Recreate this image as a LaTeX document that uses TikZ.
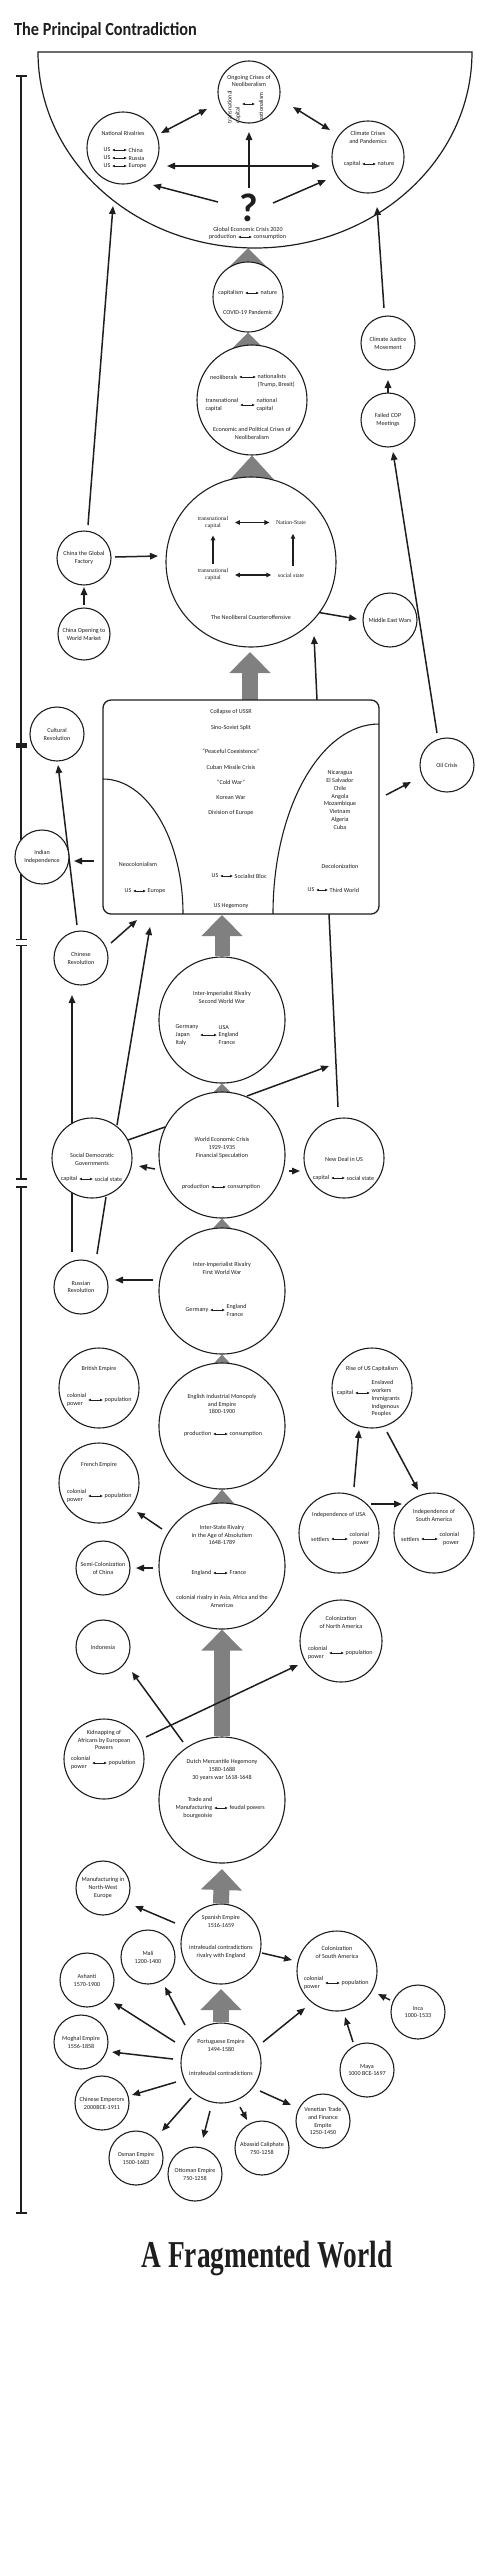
\documentclass[tikz,border=0pt]{standalone}
\usepackage{fontspec}
\setmainfont{Carlito}
\newfontfamily\serifish{Liberation Serif}
\usetikzlibrary{arrows.meta}
\pgfdeclarelayer{background}
\pgfsetlayers{background,main}
\definecolor{gfill}{RGB}{128,128,128}
\definecolor{ink}{RGB}{30,30,30}
\newcommand{\DblA}[8]{%
  \node[txt,anchor=east,align=#5] (#1l) at ({#2-1},#4) {#6};
  \node[txt,anchor=west,align=#7] (#1r) at ({#3+1},#4) {#8};
  \draw[darr] (#1l.east) -- (#1r.west);}
\begin{document}
\begin{tikzpicture}[x=1pt,y=-1pt,
  txt/.style={font=\fontsize{6.1}{7.8}\selectfont, inner sep=0.5pt, align=center, text=ink},
  stxt/.style={font=\serifish\fontsize{5.9}{7}\selectfont, inner sep=0.5pt, align=center, text=ink},
  circ/.style={circle, draw=ink, line width=1.1pt, fill=white, inner sep=0pt, minimum size=#1, font=\fontsize{6.1}{7.8}\selectfont, align=center, text=ink},
  boxst/.style={draw=ink, line width=1.3pt, fill=white, rounded corners=8pt, minimum width=276pt, minimum height=214pt, inner sep=0pt, outer sep=0pt},
  arr/.style={draw=ink, line width=1.5pt, -{Triangle[length=8pt,width=6.5pt]}},
  arrd/.style={draw=ink, line width=1.5pt, {Triangle[length=8pt,width=6.5pt]}-{Triangle[length=8pt,width=6.5pt]}},
  ln/.style={draw=ink, line width=1.5pt},
  darr/.style={draw=ink, line width=0.6pt, {Latex[length=2.8pt,width=2.6pt]}-{Latex[length=2.8pt,width=2.6pt]}, shorten <=1pt, shorten >=1pt},
  sarrd/.style={draw=ink, line width=1.2pt, {Triangle[length=5pt,width=4.5pt]}-{Triangle[length=5pt,width=4.5pt]}},
  sarr/.style={draw=ink, line width=1.2pt, -{Triangle[length=5pt,width=4.5pt]}},
  bigarr/.style={draw=gfill, line width=#1, -{Triangle[length=21pt,width=40pt]}},
  tri/.style={fill=gfill},
  tl/.style={draw=ink, line width=1.4pt},
  tick/.style={draw=ink, line width=1.8pt}]
\useasboundingbox (0,0) rectangle (495,2560);

% ---------- titles ----------
\node[anchor=base west, inner sep=0pt, font=\fontsize{18.5}{18.5}\selectfont\bfseries, xscale=0.88, transform shape, text=ink] (title) at (14,35.5) {The Principal Contradiction};
\node[anchor=base, inner sep=0pt, font=\serifish\bfseries\fontsize{38}{38}\selectfont, xscale=0.72, text=ink] (bottomtitle) at (267,2267) {A Fragmented World};

% ---------- timeline ----------
\draw[tl] (21,76) -- (21,939.5);
\draw[tl] (21,945.5) -- (21,1179);
\draw[tl] (21,1187) -- (21,2213);
\draw[tick] (16,76) -- (27,76);
\draw[tick] (16,939.5) -- (27,939.5);
\draw[tick] (16,945.5) -- (27,945.5);
\draw[tick] (16,1179) -- (27,1179);
\draw[tick] (16,1187) -- (27,1187);
\draw[tick] (16,2213) -- (27,2213);
\fill[ink] (16,743) rectangle (27,748);

% ---------- top half-disc ----------
\draw[ink, line width=1.2pt] (38,52) -- (472,52) arc[start angle=0, end angle=180, x radius=217, y radius=196] -- cycle;
\coordinate (semiL) at (113,206);
\coordinate (semiR) at (377,207);
\coordinate (semiB) at (248,248);

% ---------- circles ----------
\node[circ=62] (ongoing) at (249,92) {};
\node[circ=72] (natriv) at (123,148) {};
\node[circ=72] (climate) at (368,157) {};
\node[circ=70] (covid) at (248,297) {};
\node[circ=110] (econpol) at (252,400) {};
\node[circ=170] (neolib) at (251,562) {};
\node[circ=54] (cjm) at (388,343) {Climate Justice\\Movement};
\node[circ=54] (failedcop) at (388,420) {Failed COP\\Meetings};
\node[circ=54] (mideast) at (390,620) {Middle East Wars};
\node[circ=54] (oil) at (447,765) {Oil Crisis};
\node[circ=52] (chinaopen) at (84,634) {China Opening to\\World Market};
\node[circ=54] (chinafac) at (84,558) {China the Global\\Factory};
\node[circ=54] (cultrev) at (57,734) {Cultural\\Revolution};
\node[circ=54] (indind) at (42,857) {Indian\\Independence};
\node[circ=54] (chinrev) at (81,958) {Chinese\\Revolution};
\node[boxst] (hegem) at (241,807) {};
\node[circ=80] (socdem) at (92,1158) {};
\node[circ=80] (newdeal) at (344,1158) {};
\node[circ=126] (ww2) at (222,1020) {};
\node[circ=126] (wec) at (222,1155) {};
\node[circ=126] (ww1) at (222,1291) {};
\node[circ=54] (russrev) at (81,1287) {Russian\\Revolution};
\node[circ=126] (english) at (222,1426) {};
\node[circ=80] (british) at (99,1388) {};
\node[circ=80] (riseus) at (372,1388) {};
\node[circ=80] (indusa) at (339,1533) {};
\node[circ=80] (indsa) at (434,1533) {};
\node[circ=80] (french) at (99,1483) {};
\node[circ=54] (semicol) at (103,1568) {Semi-Colonization\\of China};
\node[circ=126] (interstate) at (222,1566) {};
\node[circ=54] (indonesia) at (103,1647) {Indonesia};
\node[circ=82] (colna) at (341,1641) {};
\node[circ=126] (dutch) at (222,1800) {};
\node[circ=80] (kidnap) at (104,1759) {};
\node[circ=54] (manuf) at (103,1888) {Manufacturing in\\North-West\\Europe};
\node[circ=80] (spanish) at (221,1944) {};
\node[circ=54] (mali) at (148,1957) {Mali\\1200-1400};
\node[circ=54] (ashanti) at (87,1980) {Ashanti\\1570-1900};
\node[circ=54] (moghal) at (81,2042) {Moghal Empire\\1556-1858};
\node[circ=80] (colsa) at (337,1971) {};
\node[circ=54] (inca) at (418,2012) {Inca\\1000-1533};
\node[circ=54] (maya) at (367,2070) {Maya\\1000 BCE-1697};
\node[circ=80] (portug) at (221,2063) {};
\node[circ=54] (chinemp) at (102,2103) {Chinese Emperors\\2000BCE-1911};
\node[circ=54] (osman) at (136,2158) {Osman Empire\\1500-1683};
\node[circ=54] (ottoman) at (195,2174) {Ottoman Empire\\750-1258};
\node[circ=54] (abassid) at (262,2148) {Abassid Caliphate\\750-1258};
\node[circ=54] (venetian) at (323,2121) {Venetian Trade\\and Finance\\Empite\\1250-1450};

% box inner arcs
\draw[ink, line width=1.1pt] ([yshift=135pt]hegem.south west) arc[start angle=-90, end angle=0, x radius=80, y radius=135];
\draw[ink, line width=1.1pt] ([yshift=190pt]hegem.south east) arc[start angle=-90, end angle=-180, x radius=106, y radius=190];

% ---------- texts: top ----------
\node[txt] (ongt) at (249,81) {Ongoing Crises of\\Neoliberalism};
\node[txt, rotate=90, align=left] (ongl) at (234,107) {transnational\\capital};
\node[txt, rotate=90] (ongr) at (261,107) {nationalism};
\draw[darr] ([shift={(-8,12)}]ongoing.center) -- ([shift={(7,12)}]ongoing.center);
\node[txt] (nrt) at (123,133) {National Rivalries};
\DblA{nra}{112}{127}{150}{left}{US}{left}{China}
\DblA{nrb}{112}{127}{158}{left}{US}{left}{Russia}
\DblA{nrc}{112}{127}{166}{left}{US}{left}{Europe}
\node[txt] (clt) at (368,137.5) {Climate Crises\\and Pandemics};
\DblA{cl}{362}{376}{164}{left}{capital}{left}{nature}
\node[inner sep=0pt, font=\fontsize{40}{40}\selectfont\bfseries, text=ink] (qmark) at (249,208) {?};
\node[txt] (gect) at (248,229) {Global Economic Crisis 2020};
\DblA{gec}{238}{252}{237}{left}{production}{left}{consumption}
\DblA{cv}{245}{259}{293}{left}{capitalism}{left}{nature}
\node[txt] (cvt) at (248,312) {COVID-19 Pandemic};
\node[txt, anchor=east] (epal) at (238,377) {neoliberals};
\node[txt, anchor=west, align=left] (epar) at (257,381) {nationalists\\(Trump, Brexit)};
\draw[darr] (epal.east) -- (epal.east -| epar.west);
\DblA{epb}{240}{255}{405}{left}{transnational\\capital}{left}{national\\capital}
\node[txt] (ept) at (252,433) {Economic and Political Crises of\\Neoliberalism};

% neoliberal counteroffensive
\node[stxt] (nta) at (213,522.5) {transnational\\capital};
\node[stxt] (ntb) at (291,523) {Nation-State};
\node[stxt] (nba) at (213,575) {transnational\\capital};
\node[stxt] (nbb) at (291,575) {social state};
\draw[sarrd, shorten <=6pt, shorten >=6pt] (nta.east) -- (nta.east -| ntb.west);
\draw[sarrd, shorten <=6pt, shorten >=6pt] (nba.east) -- (nba.east -| nbb.west);
\draw[sarr, shorten <=4pt, shorten >=6pt] (nba.north) -- (nta.south);
\draw[sarr, shorten <=6pt, shorten >=8pt] ([xshift=2pt]nbb.north) -- ([xshift=2pt]nbb.north |- ntb.south);
\node[txt] (nlt) at (251,617) {The Neoliberal Counteroffensive};

% hegemony box
\node[txt] (ha) at (231,712) {Collapse of USSR};
\node[txt] (hb) at (231,728) {Sino-Soviet Split};
\node[txt] (hc) at (231,751) {“Peaceful Coexistence”};
\node[txt] (hd) at (231,767) {Cuban Missile Crisis};
\node[txt] (he) at (231,782) {“Cold War”};
\node[txt] (hf) at (231,798) {Korean War};
\node[txt] (hg) at (231,813) {Division of Europe};
\DblA{hs}{220}{233}{876}{left}{US}{left}{Socialist Bloc}
\node[txt] (hh) at (231,906) {US Hegemony};
\node[txt] (hi) at (138,864) {Neocolonialism};
\DblA{hq}{133}{146}{891}{left}{US}{left}{Europe}
\node[txt] (hj) at (340,800) {Nicaragua\\El Salvador\\Chile\\Angola\\Mozambique\\Vietnam\\Algeria\\Cuba};
\node[txt] (hk) at (340,866) {Decolonization};
\DblA{ht}{316}{328}{890}{left}{US}{left}{Third World}

% middle
\node[txt] (wbt) at (222,997) {Inter-Imperialist Rivalry\\Second World War};
\DblA{wb}{200}{217}{1035}{left}{Germany\\Japan\\Italy}{left}{USA\\England\\France}
\node[txt] (wect) at (222,1148) {World Economic Crisis\\1929-1935\\Financial Speculation};
\DblA{we}{211}{226}{1187}{left}{production}{left}{consumption}
\node[txt] (sdt) at (92,1159) {Social Democratic\\Governments};
\DblA{sd}{79}{93}{1179}{left}{capital}{left}{social state}
\node[txt] (ndt) at (344,1159) {New Deal in US};
\DblA{nd}{331}{345}{1178}{left}{capital}{left}{social state}
\node[txt] (wat) at (222,1268) {Inter-Imperialist Rivalry\\First World War};
\DblA{wa}{210}{225}{1310}{left}{Germany}{left}{England\\France}
\node[txt] (ent) at (222,1404) {English Industrial Monopoly\\and Empire\\1800-1900};
\DblA{en}{213}{228}{1434}{left}{production}{left}{consumption}
\node[txt] (brt) at (99,1369) {British Empire};
\DblA{br}{88}{103}{1400}{left}{colonial\\power}{left}{population}
\node[txt] (rut) at (372,1369) {Rise of US Capitalism};
\node[txt, anchor=east] (rul) at (354,1393) {capital};
\node[txt, anchor=west, align=left] (rur) at (371,1398.6) {Enslaved\\workers\\Immigrants\\Indigenous\\Peoples};
\draw[darr] (rul.east) -- (rul.east -| rur.west);
\node[txt] (frt) at (99,1465) {French Empire};
\DblA{fr}{88}{103}{1496}{left}{colonial\\power}{left}{population}
\node[txt] (iut) at (339,1515) {Independence of USA};
\DblA{iu}{331}{348}{1539}{left}{settlers}{right}{colonial\\power}
\node[txt] (ist) at (434,1515) {Independence of\\South America};
\DblA{is}{421}{438}{1539}{left}{settlers}{right}{colonial\\power}
\node[txt] (itt) at (222,1535) {Inter-State Rivalry\\in the Age of Absolutism\\1648-1789};
\DblA{it}{213}{228}{1573}{left}{England}{left}{France}
\node[txt] (itb) at (222,1601) {colonial rivalry in Asia, Africa and the\\Americas};
\node[txt] (cnt) at (341,1622) {Colonization\\of North America};
\DblA{cn}{329}{344}{1653}{left}{colonial\\power}{left}{population}
\node[txt] (kdt) at (104,1740) {Kidnapping of\\Africans by European\\Powers};
\DblA{kd}{92}{107}{1763}{left}{colonial\\power}{left}{population}
\node[txt] (dut) at (222,1770) {Dutch Mercantile Hegemony\\1580-1688\\30 years war 1618-1648};
\DblA{du}{214}{228}{1808}{right}{Trade and\\Manufacturing\\bourgeoisie}{left}{feudal powers}
\node[txt] (spt) at (221,1921) {Spanish Empire\\1516-1659};
\node[txt] (spb) at (221,1952) {intrafeudal contradictions\\rivalry with England};
\node[txt] (cst) at (337,1952) {Colonization\\of South America};
\DblA{cs}{325}{340}{1983}{left}{colonial\\power}{left}{population}
\node[txt] (ptt) at (221,2045) {Portuguese Empire\\1494-1580};
\node[txt] (ptb) at (221,2073) {intrafeudal contradictions};

% ---------- connectors (behind) ----------
\begin{pgfonlayer}{background}
% gray triangles
\fill[tri] (semiB) -- ++(-22,22) -- ++(44,0) -- cycle;
\fill[tri] (covid.south) -- ++(-20,20) -- ++(40,0) -- cycle;
\fill[tri] (econpol.south) -- ++(-22,24) -- ++(44,0) -- cycle;
\fill[tri] (ww2.south) -- ++(-13,13) -- ++(26,0) -- cycle;
\fill[tri] (wec.south) -- ++(-13,14) -- ++(26,0) -- cycle;
\fill[tri] (ww1.south) -- ++(-13,14) -- ++(26,0) -- cycle;
\fill[tri] (english.south) -- ++(-14,16) -- ++(28,0) -- cycle;
% big gray arrows
\draw[bigarr=16pt] ([shift={(9,-107)}]hegem.center) -- ([shift={(-1,90)}]neolib.center);
\draw[bigarr=15pt] (ww2.north) -- ([shift={(-19,108)}]hegem.center);
\draw[bigarr=16pt] (dutch.north) -- (interstate.south);
\draw[bigarr=16pt] (spanish.north) -- ([shift={(0,69)}]dutch.center);
\draw[bigarr=16pt] (portug.north) -- ([shift={(0,45)}]spanish.center);
% top
\draw[arrd] ([shift={(38,-15)}]natriv.center) -- ([shift={(-42,17)}]ongoing.center);
\draw[arrd] ([shift={(44,15)}]ongoing.center) -- ([shift={(-38,-27)}]climate.center);
\draw[arrd] ([shift={(44,18)}]natriv.center) -- ([shift={(-48,9)}]climate.center);
\draw[arr] ([shift={(0,-20)}]qmark.center) -- ([shift={(0,40)}]ongoing.center);
\draw[arr] ([shift={(-31,-6)}]qmark.center) -- ([shift={(30,37)}]natriv.center);
\draw[arr] ([shift={(24,-5)}]qmark.center) -- ([shift={(-42,23)}]climate.center);
\draw[arr] ([shift={(4,-33)}]chinafac.center) -- (semiL);
\draw[arr] ([shift={(-4,-35)}]cjm.center) -- (semiR);
\draw[arr] ([shift={(0,-27)}]failedcop.center) -- ([shift={(0,37)}]cjm.center);
\draw[arr] ([shift={(-10,-32)}]oil.center) -- ([shift={(5,32)}]failedcop.center);
\draw[arrd] ([shift={(38,26)}]neolib.center) -- ([shift={(36,45)}]neolib.center) -- ([shift={(-33,-1)}]mideast.center);
\draw[arr] ([shift={(0,-29)}]chinaopen.center) -- ([shift={(0,29)}]chinafac.center);
\draw[arr] ([shift={(31,-1)}]chinafac.center) -- ([shift={(-93,-6)}]neolib.center);
\draw[arr] ([shift={(76,-107)}]hegem.center) -- ([shift={(63,74)}]neolib.center);
\draw[arr] ([shift={(145,-12)}]hegem.center) -- ([shift={(-36,17)}]oil.center);
% middle
\draw[arr] ([shift={(-147,54)}]hegem.center) -- ([shift={(32,4)}]indind.center);
\draw[arr] ([shift={(-4,-33)}]chinrev.center) -- ([shift={(1,31)}]cultrev.center);
\draw[arr] ([shift={(30,-15)}]chinrev.center) -- ([shift={(-104,113)}]hegem.center);
\draw[arr] ([shift={(25,-33)}]socdem.center) -- ([shift={(-91,120)}]hegem.center);
\draw[arr] ([shift={(-9,-35)}]russrev.center) -- ([shift={(-9,37)}]chinrev.center);
\draw[ln] ([shift={(16,-33)}]russrev.center) -- ([shift={(14,39)}]socdem.center);
\draw[ln] ([shift={(-6,-51)}]newdeal.center) -- ([shift={(88,107)}]hegem.center);
\draw[arr] ([shift={(25,-59)}]wec.center) -- ([shift={(-15,-92)}]newdeal.center);
\draw[ln] ([shift={(-57,-28)}]wec.center) -- ([shift={(36,-18)}]socdem.center);
\draw[arr] ([shift={(-67,14)}]wec.center) -- ([shift={(47,8)}]socdem.center);
\draw[arr] ([shift={(67,16)}]wec.center) -- ([shift={(-44,13)}]newdeal.center);
\draw[arr] ([shift={(-69,-11)}]ww1.center) -- ([shift={(34,-7)}]russrev.center);
\draw[arr] ([shift={(15,-46)}]indusa.center) -- ([shift={(-13,42)}]riseus.center);
\draw[arr] ([shift={(15,44)}]riseus.center) -- ([shift={(-16,-43)}]indsa.center);
\draw[arr] ([shift={(32,-29)}]indusa.center) -- ([shift={(-32,-29)}]indsa.center);
\draw[arr] ([shift={(-60,-37)}]interstate.center) -- ([shift={(38,29)}]french.center);
\draw[arr] ([shift={(-69,2)}]interstate.center) -- ([shift={(33,0)}]semicol.center);
\draw[arr] ([shift={(-39,-58)}]dutch.center) -- ([shift={(29,25)}]indonesia.center);
\draw[arr] ([shift={(42,-22)}]kidnap.center) -- ([shift={(-43,24)}]colna.center);
% bottom
\draw[arr] ([shift={(-46,-21)}]spanish.center) -- ([shift={(32,18)}]manuf.center);
\draw[arr] ([shift={(41,9)}]spanish.center) -- ([shift={(-45,-11)}]colsa.center);
\draw[arr] ([shift={(-28,-12)}]inca.center) -- ([shift={(41,23)}]colsa.center);
\draw[arr] ([shift={(-14,-28)}]maya.center) -- ([shift={(8,46)}]colsa.center);
\draw[arr] ([shift={(42,-21)}]portug.center) -- ([shift={(-32,37)}]colsa.center);
\draw[arr] ([shift={(-36,-38)}]portug.center) -- ([shift={(17,30)}]mali.center);
\draw[arr] ([shift={(-46,-21)}]portug.center) -- ([shift={(27,23)}]ashanti.center);
\draw[arr] ([shift={(-48,-4)}]portug.center) -- ([shift={(31,10)}]moghal.center);
\draw[arr] ([shift={(-45,19)}]portug.center) -- ([shift={(30,-8)}]chinemp.center);
\draw[arr] ([shift={(-30,35)}]portug.center) -- ([shift={(26,-27)}]osman.center);
\draw[arr] ([shift={(-11,48)}]portug.center) -- ([shift={(8,-36)}]ottoman.center);
\draw[arr] ([shift={(19,44)}]portug.center) -- ([shift={(-15,-28)}]abassid.center);
\draw[arr] ([shift={(39,28)}]portug.center) -- ([shift={(-32,-16)}]venetian.center);
\end{pgfonlayer}
\end{tikzpicture}
\end{document}
